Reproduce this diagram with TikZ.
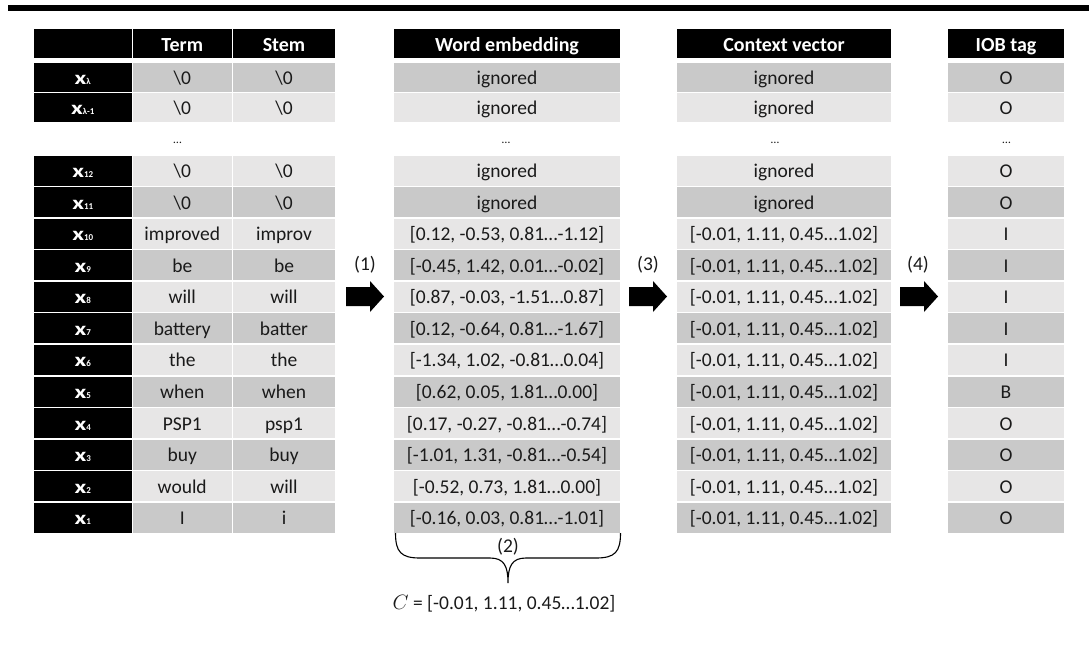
\documentclass[tikz,border=0pt]{standalone}
\usepackage{fontspec}
\setmainfont{Carlito}
\definecolor{celldark}{HTML}{C9C9C9}
\definecolor{celllight}{HTML}{E7E6E6}
\definecolor{ink}{HTML}{1A1A1A}

\tikzset{
  cell/.style={inner sep=0pt, minimum height=30pt, text height=17pt, text depth=3pt,
               font=\fontsize{19.5}{20}\selectfont, text=ink},
  dk/.style={fill=celldark},
  lt/.style={fill=celllight},
  hdr/.style={cell, fill=black, text=white, minimum height=28.5pt,
              text height=19pt, text depth=2pt, font=\fontsize{20}{20}\selectfont\bfseries},
  lbl/.style={cell, fill=black, text=white, minimum width=97.5pt},
  dots/.style={inner sep=0pt, font=\fontsize{12}{12}\selectfont, text=ink},
  plain/.style={inner sep=0pt, font=\fontsize{19.5}{20}\selectfont, text=ink},
  brace/.style={draw=black, line width=1.1pt},
}

% row label: bold x with a small index on the same baseline
\newcommand\xlab[1]{\scalebox{1.35}[1]{\fontsize{19}{19}\selectfont\bfseries x}%
  {\fontsize{9}{9}\selectfont\bfseries #1}}

% one table row: name, centre y, index, term, stem, embedding, context, tag, cell style
\newcommand\tabrow[9]{%
  \node[lbl,#9,fill=black] (#1-x) at (82.75,#2) {\xlab{#3}};
  \node[cell,#9,minimum width=98.5pt] (#1-term) at (182.25,#2) {#4};
  \node[cell,#9,minimum width=102pt] (#1-stem) at (284,#2) {#5};
  \node[cell,#9,minimum width=226pt] (#1-emb) at (507,#2) {#6};
  \node[cell,#9,minimum width=214pt] (#1-ctx) at (784,#2) {#7};
  \node[cell,#9,minimum width=116pt] (#1-iob) at (1006,#2) {#8};
}

% block arrow: left end x, centre y
\newcommand\blockarrow[2]{%
  \fill[black] (#1,#2-9.5) -- ++(24,0) -- ++(0,-6) -- ++(14,15.5) -- ++(-14,15.5)
    -- ++(0,-6) -- ++(-24,0) -- cycle;
}

\newcommand\zero{\textbackslash 0}
\newcommand\ctxv{[-0.01, 1.11, 0.45…1.02]}

\begin{document}
\begin{tikzpicture}[x=1pt,y=-1pt]
\useasboundingbox (0,0) rectangle (1089,648);

% rule across the top
\fill[black] (8,5) rectangle (1089,10.5);

% column headers
\node[hdr,minimum width=97.5pt] (h-x) at (82.75,43.25) {};
\node[hdr,minimum width=98.5pt] (h-term) at (182.25,43.25) {Term};
\node[hdr,minimum width=102pt] (h-stem) at (284,43.25) {Stem};
\node[hdr,minimum width=226pt] (h-emb) at (507,43.25) {Word embedding};
\node[hdr,minimum width=214pt] (h-ctx) at (784,43.25) {Context vector};
\node[hdr,minimum width=116pt] (h-iob) at (1006,43.25) {IOB tag};

% padded positions
\tabrow{rl}{77.2}{λ}{\zero}{\zero}{ignored}{ignored}{O}{dk,minimum height=29pt}
\tabrow{rlm}{107.65}{λ-1}{\zero}{\zero}{ignored}{ignored}{O}{lt,minimum height=29.3pt}

\node[dots] (d-term) at (177.5,143) {…};
\node[dots] (d-emb) at (506,143) {…};
\node[dots] (d-ctx) at (775,143) {…};
\node[dots] (d-iob) at (1006.5,143) {…};

\tabrow{r12}{170.65}{12}{\zero}{\zero}{ignored}{ignored}{O}{lt}
\tabrow{r11}{202.2}{11}{\zero}{\zero}{ignored}{ignored}{O}{dk}
\tabrow{r10}{233.75}{10}{improved}{improv}{[0.12, -0.53, 0.81…-1.12]}{\ctxv}{I}{lt}
\tabrow{r9}{265.3}{9}{be}{be}{[-0.45, 1.42, 0.01…-0.02]}{\ctxv}{I}{dk}
\tabrow{r8}{296.85}{8}{will}{will}{[0.87, -0.03, -1.51…0.87]}{\ctxv}{I}{lt}
\tabrow{r7}{328.4}{7}{battery}{batter}{[0.12, -0.64, 0.81…-1.67]}{\ctxv}{I}{dk}
\tabrow{r6}{359.95}{6}{the}{the}{[-1.34, 1.02, -0.81…0.04]}{\ctxv}{I}{lt}
\tabrow{r5}{391.5}{5}{when}{when}{[0.62, 0.05, 1.81…0.00]}{\ctxv}{B}{dk}
\tabrow{r4}{423.05}{4}{PSP1}{psp1}{[0.17, -0.27, -0.81…-0.74]}{\ctxv}{O}{lt}
\tabrow{r3}{454.6}{3}{buy}{buy}{[-1.01, 1.31, -0.81…-0.54]}{\ctxv}{O}{dk}
\tabrow{r2}{486.15}{2}{would}{will}{[-0.52, 0.73, 1.81…0.00]}{\ctxv}{O}{lt}
\tabrow{r1}{517.7}{1}{I}{i}{[-0.16, 0.03, 0.81…-1.01]}{\ctxv}{O}{dk}

% processing steps
\blockarrow{346}{296.5}
\blockarrow{629}{296.5}
\blockarrow{900}{296.5}
\node[plain] (s1) at (365,265) {(1)};
\node[plain] (s3) at (648,265) {(3)};
\node[plain] (s4) at (918,265) {(4)};

% pooling of the embeddings into C
\draw[brace] (395.5,533) .. controls (395.5,552) and (401,558) .. (420,558)
  -- (490,558) .. controls (504,558) and (508,566) .. (508,583)
  .. controls (508,566) and (512,558) .. (526,558)
  -- (596,558) .. controls (615,558) and (620.5,552) .. (620.5,533);
\node[plain] (s2) at (508,547) {(2)};
\node[plain] (cvec) at (504,603.5) {$C$ = [-0.01, 1.11, 0.45…1.02]};
\end{tikzpicture}
\end{document}
